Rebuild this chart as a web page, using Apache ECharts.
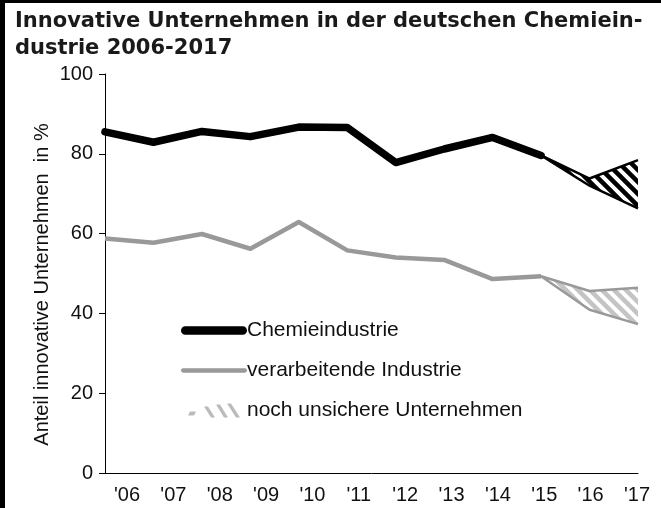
<!DOCTYPE html>
<html>
<head>
<meta charset="utf-8">
<script src="https://cdn.jsdelivr.net/npm/echarts@6/dist/echarts.min.js"></script>
<style>
  html, body { margin: 0; padding: 0; background: #fff; }
  #chart { width: 661px; height: 508px; }
</style>
</head>
<body>
<div id="chart"></div>
<script>
// Jahre und Werte (Anteil innovative Unternehmen in %)
var years = ["'06", "'07", "'08", "'09", "'10", "'11", "'12", "'13", "'14", "'15", "'16", "'17"];
var chemie = [85.5, 82.9, 85.6, 84.3, 86.7, 86.6, 77.8, 81.2, 84.1, 79.6, null, null];
var industrie = [58.8, 57.7, 59.9, 56.2, 62.9, 55.8, 54.0, 53.4, 48.6, 49.3, null, null];
// unsichere Jahre: untere / obere Grenze
var chemieLow = [null, null, null, null, null, null, null, null, null, 79.6, 72.0, 66.3];
var chemieHigh = [null, null, null, null, null, null, null, null, null, 79.6, 73.8, 78.4];
var industrieLow = [null, null, null, null, null, null, null, null, null, 49.3, 40.9, 37.3];
var industrieHigh = [null, null, null, null, null, null, null, null, null, 49.3, 45.6, 46.4];
var yTicks = [0, 20, 40, 60, 80, 100];

// Differenz fuer gestapelte Flaeche
function band(low, high) {
	var out = [];
	for (var i = 0; i < low.length; i++) {
		out.push(low[i] == null ? null : +(high[i] - low[i]).toFixed(2));
	}
	return out;
}

// Schraffur als Canvas-Muster
function hatch(color) {
	var c = document.createElement('canvas');
	c.width = 12;
	c.height = 12;
	var ctx = c.getContext('2d');
	ctx.strokeStyle = color;
	ctx.lineWidth = 4.5;
	ctx.beginPath();
	ctx.moveTo(-12, 0); ctx.lineTo(12, 24);
	ctx.moveTo(0, 0); ctx.lineTo(12, 12);
	ctx.moveTo(0, -12); ctx.lineTo(24, 12);
	ctx.moveTo(-6, -6); ctx.lineTo(6, 6);
	ctx.stroke();
	return { image: c, repeat: 'repeat' };
}

var font = 'Liberation Sans, Arial, sans-serif';
var chart = echarts.init(document.getElementById('chart'));

var option = {
	animation: false,
	title: {
		text: 'Innovative Unternehmen in der deutschen Chemiein-\ndustrie 2006-2017',
		left: 10,
		top: 3,
		textStyle: {
			fontFamily: 'DejaVu Sans',
			fontWeight: 'bold',
			fontSize: 21,
			lineHeight: 27,
			color: '#1a1a1a'
		}
	},
	legend: {
		orient: 'vertical',
		left: 176,
		top: 315,
		itemWidth: 66,
		itemHeight: 14,
		itemGap: 19,
		textStyle: { fontFamily: font, fontSize: 21, color: '#111', padding: [0, 0, 0, -5] },
		data: [
			{ name: 'Chemieindustrie', icon: 'path://M4,0 L58,0 A4,4 0 0 1 58,8 L4,8 A4,4 0 0 1 4,0 Z', itemStyle: { color: '#000' } },
			{ name: 'verarbeitende Industrie', icon: 'path://M2,0 L60,0 A2,2 0 0 1 60,4 L2,4 A2,2 0 0 1 2,0 Z', itemStyle: { color: '#999' } },
			{ name: 'noch unsichere Unternehmen', icon: 'path://M12,8 L18,8 L16,12 L10,12 Z M26,3 L30,3 L37,14 L33,14 Z M38,1 L42,1 L50,14 L46,14 Z M49,0 L53,0 L62,14 L58,14 Z', itemStyle: { color: '#bbb' } }
		]
	},
	graphic: [
		{ type: 'rect', shape: { x: 0, y: 0, width: 5, height: 508 }, style: { fill: '#000' } },
		{ type: 'rect', shape: { x: 0, y: 0, width: 661, height: 3 }, style: { fill: '#000' } }
	],
	grid: [
		{ left: 105, right: 23, top: 74, bottom: 35 },
		{ left: 127, right: 24, top: 74, bottom: 35 }
	],
	xAxis: [
		{
			type: 'category',
			boundaryGap: false,
			data: years,
			axisLine: { lineStyle: { color: '#000', width: 1 } },
			axisTick: { show: false },
			axisLabel: { show: false }
		},
		{
			// Jahresbeschriftung, leicht versetzt wie im Original
			type: 'category',
			gridIndex: 1,
			boundaryGap: false,
			data: years,
			axisLine: { show: false },
			axisTick: { show: false },
			axisLabel: { fontFamily: font, fontSize: 20, color: '#111', margin: 12 }
		}
	],
	yAxis: [
		{
			type: 'value',
			min: 0,
			max: 100,
			interval: 20,
			name: 'Anteil innovative Unternehmen  in %',
			nameLocation: 'middle',
			nameGap: 53,
			nameMoveOverlap: false,
			nameTextStyle: { fontFamily: font, fontSize: 20, color: '#111', padding: [0, 22, 0, 0] },
			axisLine: { show: true, lineStyle: { color: '#000', width: 1 } },
			axisTick: { show: true, length: 6, lineStyle: { color: '#000' } },
			splitLine: { show: false },
			axisLabel: {
				fontFamily: font, fontSize: 20, color: '#111', margin: 12,
				formatter: function (v) { return yTicks.indexOf(v) >= 0 ? String(v) : ''; }
			}
		},
		{
			type: 'value', gridIndex: 1, min: 0, max: 100, show: false
		}
	],
	series: [
		{
			name: 'Chemieindustrie', type: 'line', data: chemie, symbol: 'none',
			lineStyle: { color: '#000', width: 7.5, cap: 'round', join: 'round' }, z: 5
		},
		{
			name: 'verarbeitende Industrie', type: 'line', data: industrie, symbol: 'none',
			lineStyle: { color: '#999', width: 4.5, join: 'round' }, z: 4
		},
		{
			name: 'chemieLow', type: 'line', stack: 'chem', data: chemieLow, symbol: 'none',
			lineStyle: { color: '#000', width: 2.5 }
		},
		{
			name: 'noch unsichere Unternehmen', type: 'line', stack: 'chem', data: band(chemieLow, chemieHigh), symbol: 'none',
			lineStyle: { color: '#000', width: 2.5 },
			areaStyle: { color: hatch('#000'), opacity: 1 }
		},
		{
			name: 'industrieLow', type: 'line', stack: 'ind', data: industrieLow, symbol: 'none',
			lineStyle: { color: '#999', width: 2.5 }
		},
		{
			name: 'industrieBand', type: 'line', stack: 'ind', data: band(industrieLow, industrieHigh), symbol: 'none',
			lineStyle: { color: '#999', width: 2.5 },
			areaStyle: { color: hatch('#c4c4c4'), opacity: 1 }
		}
	]
};
chart.setOption(option);
</script>
</body>
</html>
